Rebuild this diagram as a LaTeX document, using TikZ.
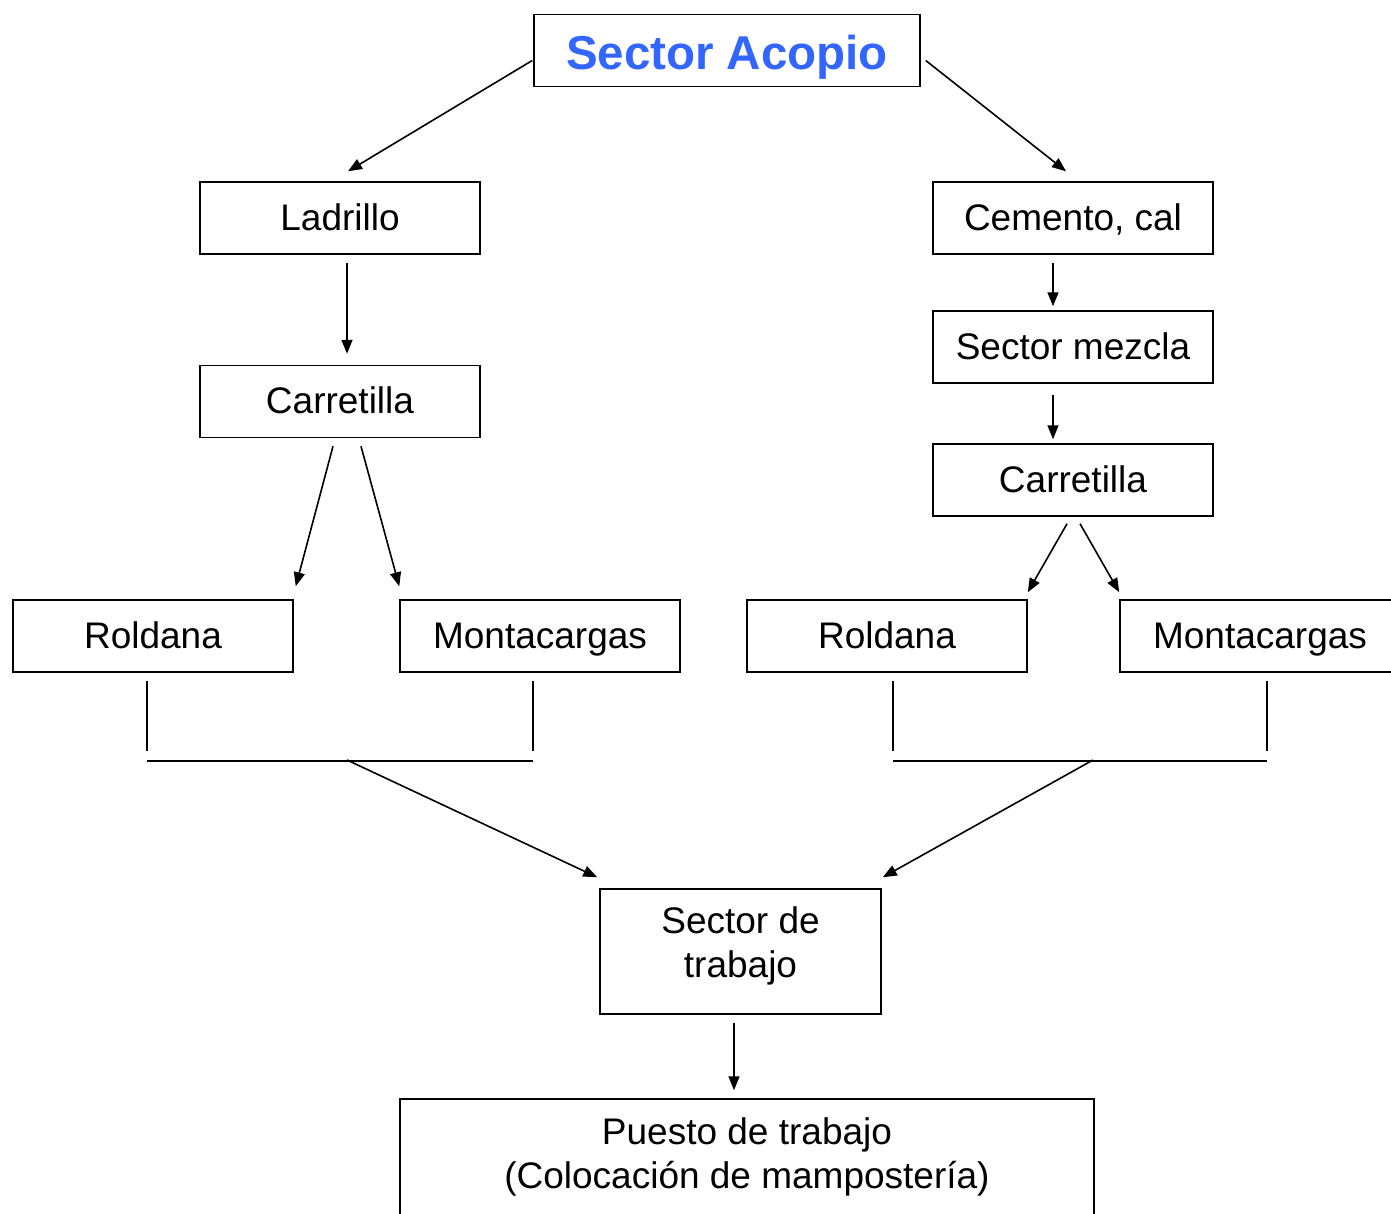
\documentclass[tikz,border=0pt]{standalone}
\usepackage{fontspec}
\setmainfont{Liberation Sans}
\usetikzlibrary{arrows.meta,calc}
\definecolor{titleblue}{RGB}{51,102,255}
\begin{document}
\begin{tikzpicture}[x=1pt,y=-1pt,
  box/.style={draw,line width=1.5pt,minimum width=280pt,minimum height=72pt,
    inner sep=0pt,text height=34pt,text depth=10pt,font=\fontsize{37}{44}\selectfont},
  plain/.style={inner sep=0pt,align=center,font=\fontsize{37}{44}\selectfont},
  link/.style={line width=1.6pt},
  flow/.style={link,-{Triangle[length=14pt,width=11pt]}}]
\useasboundingbox (0,0) rectangle (1391,1213);
\fill[white] (0,0) rectangle (1391,1213);
\clip (0,0) rectangle (1391,1213);

% boxes
\node[box,minimum width=386pt,text height=44pt,text depth=6pt,
  font=\fontsize{47.5}{56}\bfseries,text=titleblue]
  (acopio) at (727,50.5) {Sector Acopio};
\node[box] (ladrillo) at (340,218) {Ladrillo};
\node[box] (carrL) at (340,401.5) {Carretilla};
\node[box] (roldL) at (153,636) {Roldana};
\node[box] (montL) at (540,636) {Montacargas};
\node[box] (cemento) at (1073,218) {Cemento, cal};
\node[box] (mezcla) at (1073,347) {Sector mezcla};
\node[box] (carrR) at (1073,480) {Carretilla};
\node[box] (roldR) at (887,636) {Roldana};
\node[box] (montR) at (1260,636) {Montacargas};
\node[box,minimum width=281pt,minimum height=125pt,text height=0pt,text depth=0pt]
  (trabajo) at (740.5,951.5) {};
\node[plain] (trabajoTxt) at (740.5,945.5) {Sector de\\trabajo};
\node[box,minimum width=694pt,minimum height=160pt,text height=0pt,text depth=0pt]
  (puesto) at (747,1179) {};
\node[plain] (puestoTxt) at (747,1156.5) {Puesto de trabajo\\(Colocación de mampostería)};

% from the stockpile to the two material lines
\draw[flow] ($(acopio.west)+(-1,10)$) -- ($(ladrillo.north)+(8,-10)$);
\draw[flow] ($(acopio.east)+(5,10)$) -- ($(cemento.north)+(-7,-10)$);

% brick line
\draw[flow] ($(ladrillo.south)+(7,8)$) -- ($(carrL.north)+(7,-11)$);
\draw[flow] ($(carrL.south)+(-7,8)$) -- ($(roldL.north east)+(2,-13)$);
\draw[flow] ($(carrL.south)+(21,8)$) -- ($(montL.north west)+(0,-13)$);

% cement and lime line
\draw[flow] ($(cemento.south)+(-20,8)$) -- ($(mezcla.north)+(-20,-4)$);
\draw[flow] ($(mezcla.south)+(-20,11)$) -- ($(carrR.north)+(-20,-4)$);
\draw[flow] ($(carrR.south)+(-6,7)$) -- ($(roldR.north east)+(0,-7)$);
\draw[flow] ($(carrR.south)+(7,7)$) -- ($(montR.north west)+(0,-7)$);

% left collector
\coordinate (jL1) at ($(roldL.south)+(-6,88)$);
\coordinate (jL2) at ($(montL.south)+(-7,88)$);
\coordinate (jL) at (347,760);
\draw[link] ($(roldL.south)+(-6,8)$) -- ($(roldL.south)+(-6,78)$);
\draw[link] ($(montL.south)+(-7,8)$) -- ($(montL.south)+(-7,78)$);
\draw[link] (jL1) -- (jL2);
\draw[flow] (jL) -- ($(trabajo.north west)+(-2,-11)$);

% right collector
\coordinate (jR1) at ($(roldR.south)+(6,88)$);
\coordinate (jR2) at ($(montR.south)+(7,88)$);
\coordinate (jR) at (1093,760);
\draw[link] ($(roldR.south)+(6,8)$) -- ($(roldR.south)+(6,78)$);
\draw[link] ($(montR.south)+(7,8)$) -- ($(montR.south)+(7,78)$);
\draw[link] (jR1) -- (jR2);
\draw[flow] (jR) -- ($(trabajo.north east)+(1,-11)$);

% to the workstation
\draw[flow] ($(trabajo.south)+(-6.5,8)$) -- ($(puesto.north)+(-13,-8)$);
\end{tikzpicture}
\end{document}
